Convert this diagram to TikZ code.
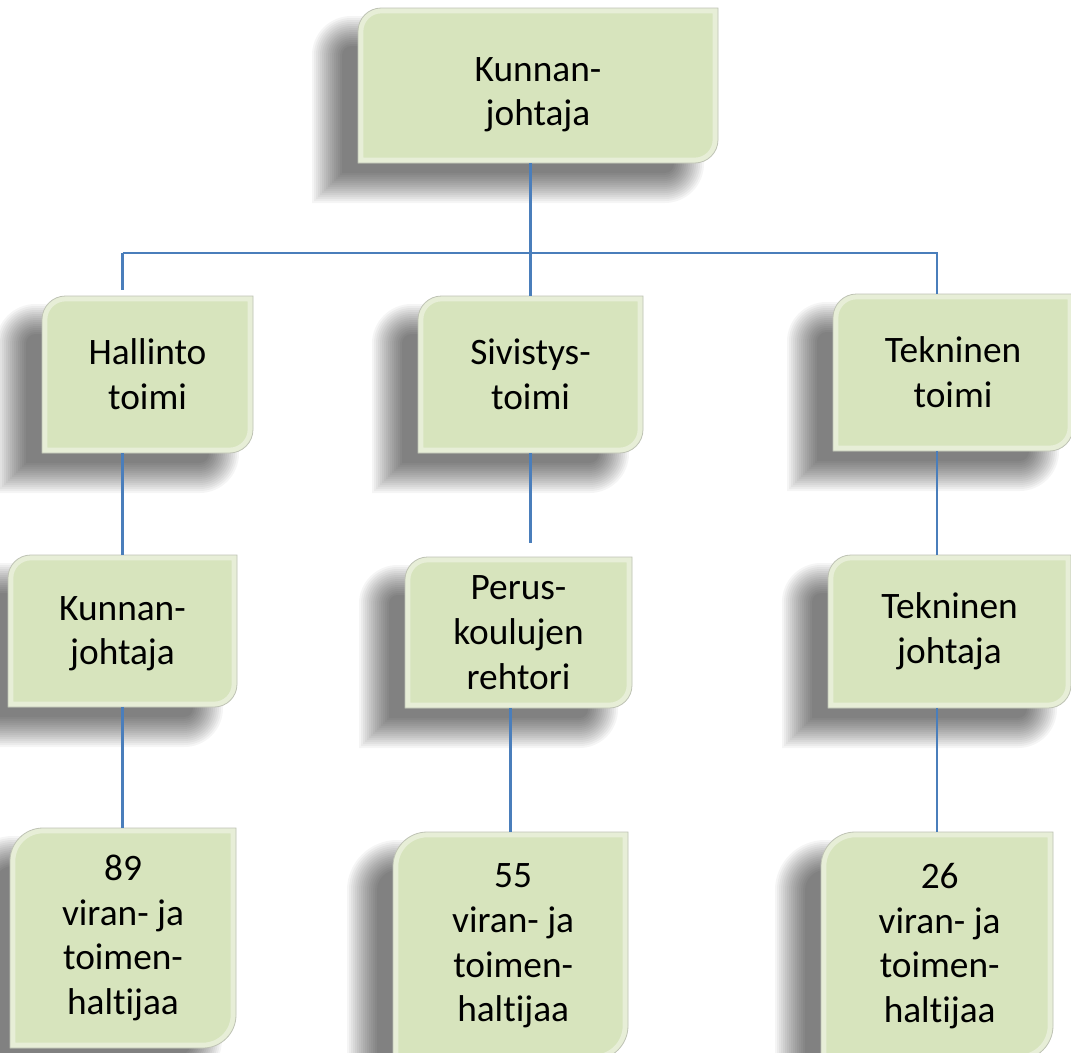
\documentclass[tikz,border=0pt]{standalone}
\usepackage{fontspec}
\setmainfont{Carlito}[Ligatures={NoCommon,NoRequired,NoContextual,NoRare}]
\definecolor{boxfill}{HTML}{D7E4BD}
\definecolor{boxline}{HTML}{BFC3B5}
\definecolor{linecol}{HTML}{4A7EBB}
\tikzset{
  boxtext/.style={inner sep=0pt, align=center, font=\fontsize{28}{33.5}\selectfont, text=black},
  conn/.style={draw=linecol, line width=1.6pt},
  shadowlayer/.style={fill=black, opacity=0.038},
}
% #1 node options, #2 name, #3 x1, #4 y1, #5 x2, #6 y2 (pixels, y downwards), #7 text
\newcommand\orgbox[7][]{%
  \pgfmathsetmacro\bw{#5-#3}%
  \pgfmathsetmacro\bh{#6-#4}%
  \pgfmathsetmacro\rr{0.15*min(\bw,\bh)}%
  % soft shadow: stacked layers, offset left and down
  \foreach \k in {0,...,15} {%
    \pgfmathsetmacro\e{2*\k-14}%
    \pgfmathsetmacro\ra{max(\rr+\e,1)}%
    \pgfmathsetmacro\sxa{#3-30-\e}%
    \pgfmathsetmacro\sxb{#5-30+\e}%
    \pgfmathsetmacro\sya{#4+24-\e}%
    \pgfmathsetmacro\syb{#6+24+\e}%
    \path[shadowlayer] (\sxa,-\syb) -- (\sxa,-\sya-\ra) arc[start angle=180,end angle=90,radius=\ra*0.75pt] -- (\sxb,-\sya) -- (\sxb,-\syb+\ra) arc[start angle=0,end angle=-90,radius=\ra*0.75pt] -- cycle;
  }%
  \path[fill=boxfill] (#3,-#6) -- (#3,-#4-\rr) arc[start angle=180,end angle=90,radius=\rr*0.75pt] -- (#5,-#4) -- (#5,-#6+\rr) arc[start angle=0,end angle=-90,radius=\rr*0.75pt] -- cycle;
  \begin{scope}
    \clip (#3,-#6) -- (#3,-#4-\rr) arc[start angle=180,end angle=90,radius=\rr*0.75pt] -- (#5,-#4) -- (#5,-#6+\rr) arc[start angle=0,end angle=-90,radius=\rr*0.75pt] -- cycle;
    \draw[white, opacity=0.4, line width=8pt] (#3,-#6) -- (#3,-#4-\rr) arc[start angle=180,end angle=90,radius=\rr*0.75pt] -- (#5,-#4) -- (#5,-#6+\rr) arc[start angle=0,end angle=-90,radius=\rr*0.75pt] -- cycle;
  \end{scope}
  \draw[boxline, line width=0.6pt] (#3,-#6) -- (#3,-#4-\rr) arc[start angle=180,end angle=90,radius=\rr*0.75pt] -- (#5,-#4) -- (#5,-#6+\rr) arc[start angle=0,end angle=-90,radius=\rr*0.75pt] -- cycle;
  \node[boxtext, minimum width=\bw*0.75pt, minimum height=\bh*0.75pt] (#2) at ({(#3+#5)/2},{-(#4+#6)/2}) {};
  \node[boxtext, #1] at (#2.center) {#7};
}
\begin{document}
\begin{tikzpicture}[x=0.75pt, y=0.75pt]
\clip (0,0) rectangle (1071,-1053);
\fill[white] (0,0) rectangle (1071,-1053);

\orgbox[yshift=-7pt]{top}{358}{8}{718}{163}{Kunnan-\\johtaja}
\orgbox{hal}{42}{296}{253}{453}{Hallinto\\toimi}
\orgbox{siv}{418}{296}{643}{453}{Sivistys-\\toimi}
\orgbox{tek}{833}{294}{1073}{451}{Tekninen\\toimi}
\orgbox[yshift=-2pt]{kun}{8}{555}{237}{707}{Kunnan-\\johtaja}
\orgbox{per}{405}{557}{632}{708}{Perus-\\koulujen\\rehtori}
\orgbox{tj}{828}{555}{1071}{708}{Tekninen\\johtaja}
\orgbox{n89}{10}{828}{236}{1048}{89\\viran- ja\\toimen-\\haltijaa}
\orgbox[xshift=2pt]{n55}{393}{832}{628}{1060}{55\\viran- ja\\toimen-\\haltijaa}
\orgbox[xshift=2pt]{n26}{821}{832}{1053}{1060}{26\\viran- ja\\toimen-\\haltijaa}

\coordinate (bus) at (530,-253);
\draw[conn] (top.south -| siv.north) -- (siv.north);
\draw[conn, shorten >=4pt] (kun.north |- bus) -- (kun.north |- hal.north);
\draw[conn] (kun.north |- bus) -- (n26.north |- bus) -- (n26.north |- tek.north);
\draw[conn] (hal.south -| kun.north) -- (kun.north);
\draw[conn, shorten >=10pt] (siv.south) -- (siv.south |- per.north);
\draw[conn] (tek.south -| n26.north) -- (tj.north -| n26.north);
\draw[conn] (kun.south) -- (kun.south |- n89.north);
\draw[conn] (per.south -| n55.north) -- (n55.north);
\draw[conn] (tj.south -| n26.north) -- (n26.north);
\end{tikzpicture}
\end{document}
